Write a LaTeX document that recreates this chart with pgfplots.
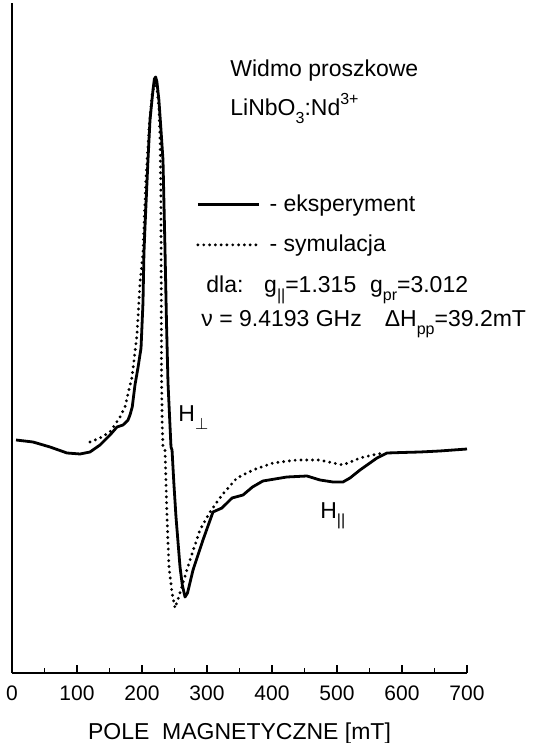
\documentclass[border=0pt]{standalone}
\usepackage{fontspec}
\setmainfont{Liberation Sans}
\usepackage{pgfplots}
\pgfplotsset{compat=1.18}
\newcommand\sub[1]{\raisebox{-0.65ex}{\fontsize{8}{8}\selectfont #1}}
\newcommand\sups[1]{\raisebox{0.95ex}{\fontsize{8}{8}\selectfont #1}}
\begin{document}
\begin{tikzpicture}
\useasboundingbox (-6pt,-35pt) rectangle (260pt,336.5pt);
\begin{axis}[
  at={(0pt,0pt)}, anchor=south west,
  scale only axis, width=227.5pt, height=335pt,
  xmin=0, xmax=700, ymin=0, ymax=670,
  axis lines*=left,
  ytick=\empty,
  xtick={0,100,...,700},
  minor xtick={50,150,...,650},
  tick align=inside,
  major tick length=4pt, minor tick length=2.5pt,
  every tick/.style={black, line width=0.6pt},
  axis line style={line width=0.7pt},
  /pgf/number format/assume math mode=true,
  xticklabel style={font=\fontsize{10.5}{12}\selectfont, anchor=center, yshift=-10pt},
  xlabel={POLE\ \ MAGNETYCZNE [mT]},
  xlabel style={font=\fontsize{11.5}{14}\selectfont, at={(axis description cs:0.5,0)}, anchor=center, yshift=-30.5pt},
  clip=false,
  legend image code/.code={\draw[#1] (0pt,0pt) -- (30.5pt,0pt);},
  legend cell align=left,
  legend style={draw=none, fill=none, font=\fontsize{11.5}{14}\selectfont,
    at={(axis cs:283,483)}, anchor=north west, inner sep=0pt, row sep=6.5pt,
    /tikz/every odd column/.append style={column sep=2.5pt}},
]
\addplot[black, line width=1.4pt, line join=round] coordinates {
(6.2,233) (32.3,231) (58.5,226) (84.6,220) (104.6,219) (120,221) (135.4,228)
(150.8,238) (161.5,246) (170.8,248) (178.5,253) (181.5,258) (185,266)
(189.2,288) (194,306) (198.5,325) (201.5,370) (203,420) (204.6,446)
(209.2,513) (212.3,553) (216.9,583) (219,594) (221,596) (223,591) (226,573) (229,545)
(232.3,513) (235.4,423) (237.7,350) (240,290) (244.6,226) (246.2,223)
(249,190) (252.3,156) (258.5,106) (262,88) (266.2,76) (270,80) (278.5,103)
(293.8,133) (309.2,161) (323,165) (338.5,175) (355.4,178) (370,186)
(386,192) (423,196) (453.8,197) (473.8,193) (493.8,191) (509.2,191)
(520,195) (535.4,203) (561.5,215) (577,220) (600,220.5) (627.7,221)
(658,222) (700,224)
};
\addlegendentry{- eksperyment}
\addplot[black, line width=1.6pt, line cap=round, dash pattern=on 0pt off 2.9pt] coordinates {
(120,231) (135.4,235) (150.8,241) (166.2,256) (173.8,266) (184.6,296)
(192.3,338) (196.9,390) (201.5,420) (206,493) (210.8,543) (215.4,578)
(220,591) (223,585) (226,565) (228,530) (229,480) (229.5,400) (230,300)
(231,250) (232.3,226) (235.4,223) (238.5,156) (241.5,106) (246.2,80)
(250.8,65) (256,75) (263,90) (273.8,113) (289.2,143) (304.6,161) (323,178)
(346,195) (370.8,203) (401.5,210) (438.5,213) (473.8,213) (493.8,210)
(509.2,208) (535.4,215) (561.5,219) (574,220)
};
\addlegendentry{- symulacja}
\node[anchor=base west, font=\fontsize{11.5}{14}\selectfont, inner sep=0pt] at (axis cs:335.4,596) {Widmo proszkowe};
\node[anchor=base west, font=\fontsize{11.5}{14}\selectfont, inner sep=0pt] at (axis cs:335.4,557) {LiNbO\sub{3}:Nd\sups{3+}};
\node[anchor=base west, font=\fontsize{11.5}{14}\selectfont, inner sep=0pt] at (axis cs:298.5,380) {dla:\hspace{0.9em}g\sub{||}=1.315\hspace{0.6em}g\sub{pr}=3.012};
\node[anchor=base west, font=\fontsize{11.5}{14}\selectfont, inner sep=0pt] at (axis cs:290.8,346) {ν = 9.4193 GHz\hspace{1em}ΔH\sub{pp}=39.2mT};
\node[anchor=base west, font=\fontsize{11.5}{14}\selectfont, inner sep=0pt] at (axis cs:255.4,251) {H\sub{$\perp$}};
\node[anchor=base west, font=\fontsize{11.5}{14}\selectfont, inner sep=0pt] at (axis cs:473.8,155) {H\sub{||}};
\end{axis}
\end{tikzpicture}
\end{document}
